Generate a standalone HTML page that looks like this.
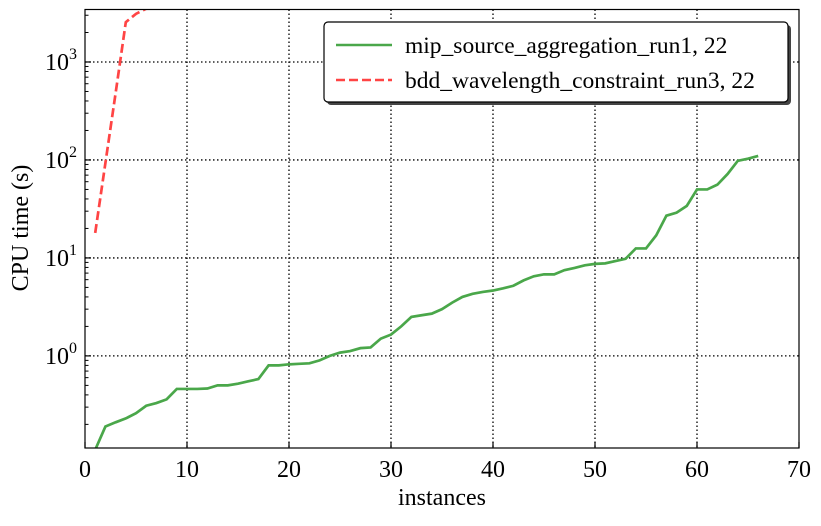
<!DOCTYPE html>
<html><head><meta charset="utf-8"><style>
body{margin:0;background:#fff;}
text,tspan{font-family:"Liberation Serif","DejaVu Serif",serif !important;fill:#000;}
</style></head><body>
<svg id="chart" width="821" height="521" viewBox="0 0 821 521" font-family="Liberation Serif, serif">
<rect x="0" y="0" width="821" height="521" fill="#fff"/>
<g id="grid"></g>
<g id="series"></g>
<rect x="85" y="9.5" width="714" height="438.5" fill="none" stroke="#000" stroke-width="1.2"/>
<g id="axes"></g>
<text x="442" y="505" font-size="24" text-anchor="middle" font-family="Liberation Serif, serif">instances</text>
<text x="28" y="228" font-size="24" text-anchor="middle" font-family="Liberation Serif, serif" transform="rotate(-90 28 228)">CPU time (s)</text>
<g>
<rect x="327" y="25" width="464" height="80" rx="4" fill="#444"/>
<rect x="324" y="22" width="464" height="80" rx="4" fill="#fff" stroke="#000" stroke-width="1.2"/>
<line x1="336" y1="45" x2="392" y2="45" stroke="#4aa74a" stroke-width="2.5"/>
<text x="405" y="53" font-size="23.5" font-family="Liberation Serif, serif">mip_source_aggregation_run1, 22</text>
<line x1="336" y1="80" x2="392" y2="80" stroke="#ff4444" stroke-width="2.5" stroke-dasharray="9,4"/>
<text x="405" y="88" font-size="23.5" font-family="Liberation Serif, serif">bdd_wavelength_constraint_run3, 22</text>
</g>
</svg>
<script>
const greenX = [1,2,3,4,5,6,7,8,9,10,11,12,13,14,15,16,17,18,19,20,21,22,23,24,25,26,27,28,29,30,31,32,33,34,35,36,37,38,39,40,41,42,43,44,45,46,47,48,49,50,51,52,53,54,55,56,57,58,59,60,61,62,63,64,65,66];
const greenY = [0.11,0.19,0.21,0.23,0.26,0.31,0.33,0.36,0.46,0.46,0.46,0.465,0.5,0.5,0.52,0.55,0.58,0.8,0.8,0.82,0.83,0.84,0.9,1.0,1.08,1.12,1.2,1.22,1.5,1.65,2.0,2.5,2.6,2.7,3.0,3.5,4.0,4.3,4.5,4.65,4.9,5.2,5.9,6.5,6.8,6.8,7.5,7.9,8.4,8.7,8.8,9.3,9.8,12.5,12.5,17,27,29,34,50,50,56,72,98,103,110];
const redX = [1,2,3,4,5,6,7];
const redY = [18,93,480,2550,3100,3500,4000];
const xTicks = [0,10,20,30,40,50,60,70];
const yTicks = [0,1,2,3];

const X0=85,X1=799,Y0=9.5,Y1=448;
const xMin=0,xMax=70;
const yMinL=Math.log10(0.1148),yMaxL=3+(62-9.5)/98;
function sx(v){return X0+(v-xMin)/(xMax-xMin)*(X1-X0);}
function sy(v){return Y1-(Math.log10(v)-yMinL)/(yMaxL-yMinL)*(Y1-Y0);}
const NS="http://www.w3.org/2000/svg";
function mk(tag,attrs,parent){const e=document.createElementNS(NS,tag);for(const k in attrs)e.setAttribute(k,attrs[k]);parent.appendChild(e);return e;}
const grid=document.getElementById('grid'),axes=document.getElementById('axes'),ser=document.getElementById('series');

xTicks.forEach(t=>{
  const x=sx(t);
  if(t>xMin&&t<xMax){
    const g=mk('line',{x1:x,y1:Y0,x2:x,y2:Y1,stroke:'#000','stroke-width':1.3,'stroke-dasharray':'1.5,2.5'},grid);
    
    
  }
  const tk=mk('line',{x1:x,y1:Y1,x2:x,y2:Y1-6,stroke:'#000','stroke-width':1.2},axes);
  
  
  const lb=mk('text',{x:x,y:Y1+29,'font-size':24,'text-anchor':'middle','font-family':'Liberation Serif, serif'},axes);
  lb.textContent=t;
  
  
});
yTicks.forEach(p=>{
  const y=sy(Math.pow(10,p));
  const g=mk('line',{x1:X0,y1:y,x2:X1,y2:y,stroke:'#000','stroke-width':1.3,'stroke-dasharray':'1.5,2.5'},grid);
  
  
  const tk=mk('line',{x1:X0,y1:y,x2:X0+6,y2:y,stroke:'#000','stroke-width':1.2},axes);
  
  
  const lb=mk('text',{x:X0-8,y:y+8,'font-size':24,'text-anchor':'end','font-family':'Liberation Serif, serif'},axes);
  
  
  lb.textContent='10';
  const sp=mk('tspan',{dy:-11,'font-size':16},lb);sp.textContent=p;
});
for(let p=-1;p<=3;p++){for(let m=2;m<=9;m++){const v=m*Math.pow(10,p);const y=sy(v);if(y<Y0||y>Y1)continue;
  const tk=mk('line',{x1:X0,y1:y,x2:X0+3.5,y2:y,stroke:'#000','stroke-width':1},axes);
  
  }}

mk('clipPath',{id:'clip'},ser);
mk('rect',{x:X0,y:Y0,width:X1-X0,height:Y1-Y0},document.getElementById('clip'));
const gp=mk('polyline',{points:greenX.map((x,i)=>sx(x)+','+sy(greenY[i])).join(' '),fill:'none',stroke:'#4aa74a','stroke-width':2.7,'clip-path':'url(#clip)'},ser);


const rp=mk('polyline',{points:redX.map((x,i)=>sx(x)+','+sy(redY[i])).join(' '),fill:'none',stroke:'#ff4444','stroke-width':2.7,'stroke-dasharray':'9,4','clip-path':'url(#clip)'},ser);


</script>
</body></html>
